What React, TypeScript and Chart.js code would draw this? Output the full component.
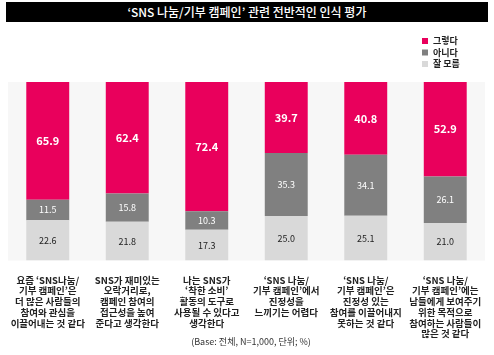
import React, { useEffect, useRef } from "react";
import { Chart, registerables } from "chart.js";

Chart.register(...registerables);

const titleText = "‘SNS 나눔/기부 캠페인’ 관련 전반적인 인식 평가";
const footerText = "(Base: 전체, N=1,000, 단위; %)";

const categories: string[][] = [
  ["요즘 ‘SNS나눔/", "기부 캠페인’은", "더 많은 사람들의", "참여와 관심을", "이끌어내는 것 같다"],
  ["SNS가 재미있는", "오락거리로,", "캠페인 참여의", "접근성을 높여", "준다고 생각한다"],
  ["나는 SNS가", "‘착한 소비’", "활동의 도구로", "사용될 수 있다고", "생각한다"],
  ["‘SNS 나눔/", "기부 캠페인’에서", "진정성을", "느끼기는 어렵다"],
  ["‘SNS 나눔/", "기부 캠페인’은", "진정성 있는", "참여를 이끌어내지", "못하는 것 같다"],
  ["‘SNS 나눔/", "기부 캠페인’에는", "남들에게 보여주기", "위한 목적으로", "참여하는 사람들이", "많은 것 같다"],
];

const seriesNames = ["잘 모름", "아니다", "그렇다"];
const dontKnow = [22.6, 21.8, 17.3, 25.0, 25.1, 21.0];
const disagree = [11.5, 15.8, 10.3, 35.3, 34.1, 26.1];
const agree = [65.9, 62.4, 72.4, 39.7, 40.8, 52.9];

const colors = ["#d9d9d9", "#808080", "#e9005c"];
const labelColors = ["#222222", "#ffffff", "#ffffff"];
const FONT = "'Noto Sans CJK KR', 'Noto Sans', sans-serif";

const bgPlugin = {
  id: "plotBg",
  beforeDatasetsDraw(chart: any) {
    const { ctx, chartArea } = chart;
    ctx.save();
    ctx.fillStyle = "#f7f7f7";
    ctx.fillRect(chartArea.left, chartArea.top, chartArea.right - chartArea.left, chartArea.bottom - chartArea.top);
    ctx.restore();
  },
};

const valuePlugin = {
  id: "values",
  afterDatasetsDraw(chart: any) {
    const { ctx } = chart;
    ctx.save();
    ctx.textAlign = "center";
    ctx.textBaseline = "middle";
    chart.data.datasets.forEach((ds: any, di: number) => {
      const meta = chart.getDatasetMeta(di);
      meta.data.forEach((bar: any, i: number) => {
        const y = (bar.y + bar.base) / 2;
        ctx.fillStyle = labelColors[di];
        ctx.font = di === 2 ? `bold 11px ${FONT}` : `9px ${FONT}`;
        ctx.fillText(Number(ds.data[i]).toFixed(1), bar.x, y);
      });
    });
    ctx.restore();
  },
};

const legendPlugin = {
  id: "customLegend",
  afterDraw(chart: any) {
    const { ctx } = chart;
    ctx.save();
    ctx.font = `bold 9px ${FONT}`;
    ctx.textBaseline = "middle";
    ctx.textAlign = "left";
    const order = [2, 1, 0];
    order.forEach((di, k) => {
      const y = 41 + k * 11.5;
      ctx.fillStyle = colors[di];
      ctx.fillRect(422, y - 3, 6, 6);
      ctx.fillStyle = "#222";
      ctx.fillText(seriesNames[di], 433, y);
    });
    ctx.restore();
  },
};

export default function App() {
  const ref = useRef<HTMLCanvasElement | null>(null);
  useEffect(() => {
    if (!ref.current) return;
    const chart = new Chart(ref.current, {
      type: "bar",
      data: {
        labels: categories,
        datasets: [dontKnow, disagree, agree].map((d, i) => ({
          label: seriesNames[i],
          data: d,
          backgroundColor: colors[i],
          borderWidth: 0,
          barPercentage: 0.54,
          categoryPercentage: 1,
        })),
      },
      options: {
        animation: false,
        responsive: false,
        maintainAspectRatio: false,
        layout: { padding: { top: 82, left: 8, right: 9, bottom: 10 } },
        plugins: {
          legend: { display: false },
          tooltip: { enabled: false },
          title: { display: false },
        },
        scales: {
          x: {
            stacked: true,
            grid: { display: false },
            border: { display: false },
            ticks: {
              color: "#222",
              font: { family: FONT, size: 9.5, weight: "bold", lineHeight: 1.13 },
              padding: 6,
              maxRotation: 0,
              autoSkip: false,
            },
          },
          y: { stacked: true, min: 0, max: 100, display: false },
        },
      },
      plugins: [bgPlugin, valuePlugin, legendPlugin],
    });
    return () => chart.destroy();
  }, []);

  return (
    <div style={{ position: "fixed", left: 0, top: 0, width: 494, height: 355, background: "#fff", fontFamily: FONT }}>
      <div
        style={{
          position: "absolute",
          left: 6,
          top: 2,
          width: 482,
          height: 20,
          background: "#000",
          color: "#fff",
          fontSize: 12,
          fontWeight: 500,
          lineHeight: "20px",
          textAlign: "center",
        }}
      >
        {titleText}
      </div>
      <canvas ref={ref} width={494} height={355} style={{ position: "absolute", left: 0, top: 0 }} />
      <div
        style={{
          position: "absolute",
          left: 0,
          width: 494,
          top: 335,
          fontSize: 9,
          color: "#333",
          textAlign: "center",
          paddingLeft: 4,
        }}
      >
        {footerText}
      </div>
    </div>
  );
}
